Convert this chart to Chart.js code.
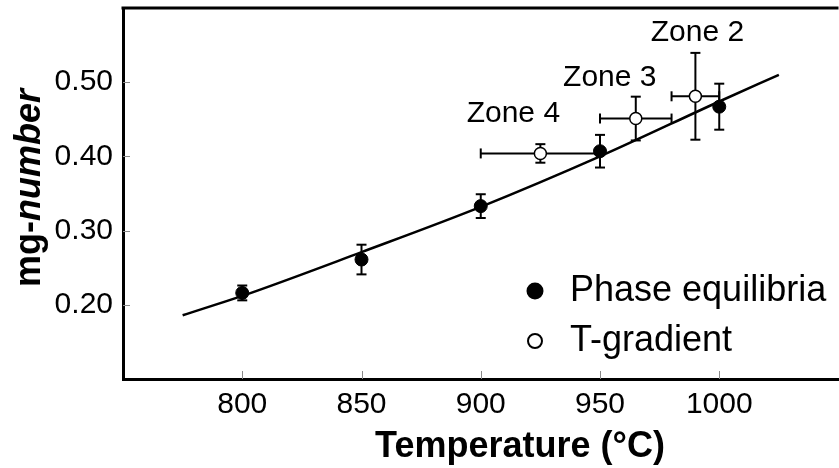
<!DOCTYPE html>
<html>
<head>
<meta charset="utf-8">
<script src="https://cdn.jsdelivr.net/npm/chart.js@4.4.1/dist/chart.umd.min.js"></script>
<style>
  html, body { margin: 0; padding: 0; overflow: hidden; background: #fff; }
  canvas { display: block; }
</style>
</head>
<body>
<canvas id="c" width="846" height="468"></canvas>
<script>
// Phase-equilibria experiments
const phaseTemps = [800, 850, 900, 950, 1000];
const phaseMg = [0.216, 0.261, 0.333, 0.407, 0.467];
const phaseMgErr = [0.010, 0.020, 0.016, 0.022, 0.031];

// Temperature-gradient zones
const zoneNames = ['Zone 4', 'Zone 3', 'Zone 2'];
const zoneTemps = [925, 965, 990];
const zoneTempErr = [25, 15, 10];
const zoneMg = [0.404, 0.451, 0.481];
const zoneMgErr = [0.0125, 0.0295, 0.0585];

// Fitted curve
const fitTemps = [775, 800, 850, 900, 950, 1000, 1025];
const fitMg = [0.186, 0.212, 0.271, 0.332, 0.400, 0.474, 0.510];

// Axes
const xTicks = [800, 850, 900, 950, 1000];
const yTicks = [0.20, 0.30, 0.40, 0.50];
const xTitle = 'Temperature (°C)';
const yTitleParts = ['mg-', 'number'];
const legendLabels = ['Phase equilibria', 'T-gradient'];

const FONT = '"Liberation Sans", Arial, Helvetica, sans-serif';

function seg(ctx, x1, y1, x2, y2) {
  ctx.beginPath();
  ctx.moveTo(x1, y1);
  ctx.lineTo(x2, y2);
  ctx.stroke();
}

// Error bars, drawn beneath the markers
const errorBars = {
  id: 'errorBars',
  beforeDatasetsDraw(chart) {
    const { ctx, scales: { x, y } } = chart;
    const cap = 5;
    ctx.save();
    ctx.strokeStyle = '#000';
    ctx.lineWidth = 2;
    chart.data.datasets.forEach(ds => {
      if (!ds.errors) return;
      ds.data.forEach((p, i) => {
        const px = x.getPixelForValue(p.x);
        const py = y.getPixelForValue(p.y);
        const ey = ds.errors.y ? ds.errors.y[i] : 0;
        const ex = ds.errors.x ? ds.errors.x[i] : 0;
        if (ey) {
          const t = y.getPixelForValue(p.y + ey);
          const b = y.getPixelForValue(p.y - ey);
          seg(ctx, px, t, px, b);
          seg(ctx, px - cap, t, px + cap, t);
          seg(ctx, px - cap, b, px + cap, b);
        }
        if (ex) {
          const l = x.getPixelForValue(p.x - ex);
          const r = x.getPixelForValue(p.x + ex);
          seg(ctx, l, py, r, py);
          seg(ctx, l, py - cap, l, py + cap);
          seg(ctx, r, py - cap, r, py + cap);
        }
      });
    });
    ctx.restore();
  }
};

// Inward tick marks and the top frame line
const frame = {
  id: 'frame',
  beforeDatasetsDraw(chart) {
    const { ctx, chartArea: a, scales: { x, y } } = chart;
    ctx.save();
    ctx.strokeStyle = '#8a8a8a';
    ctx.lineWidth = 1;
    x.ticks.forEach(t => {
      const px = Math.round(x.getPixelForValue(t.value)) + 0.5;
      seg(ctx, px, a.bottom, px, a.bottom - 8);
    });
    y.ticks.forEach(t => {
      const py = Math.round(y.getPixelForValue(t.value)) + 0.5;
      seg(ctx, a.left, py, a.left + 7, py);
    });
    ctx.strokeStyle = '#000';
    ctx.lineWidth = 3;
    seg(ctx, a.left - 1.5, a.top, a.right, a.top);
    ctx.restore();
  }
};

// Zone annotations, axis titles and the legend
const texts = {
  id: 'texts',
  afterDraw(chart, args, opts) {
    const { ctx, scales: { x, y } } = chart;
    ctx.save();
    ctx.fillStyle = '#000';
    ctx.textBaseline = 'alphabetic';

    // zone labels above the gradient points
    ctx.font = `30px ${FONT}`;
    ctx.textAlign = 'center';
    const zd = chart.data.datasets[1];
    zoneNames.forEach((name, i) => {
      const p = zd.data[i];
      const off = opts.zoneOffsets[i];
      ctx.fillText(name, x.getPixelForValue(p.x) + off[0], y.getPixelForValue(p.y) + off[1]);
    });

    // x title
    ctx.font = `bold 36px ${FONT}`;
    ctx.fillText(xTitle, opts.xTitlePos[0], opts.xTitlePos[1]);

    // y title with italic part
    const f1 = `bold 36px ${FONT}`;
    const f2 = `italic bold 36px ${FONT}`;
    ctx.font = f1; const w1 = ctx.measureText(yTitleParts[0]).width;
    ctx.font = f2; const w2 = ctx.measureText(yTitleParts[1]).width;
    ctx.translate(opts.yTitlePos[0], opts.yTitlePos[1]);
    ctx.rotate(-Math.PI / 2);
    ctx.textAlign = 'left';
    ctx.font = f1; ctx.fillText(yTitleParts[0], -(w1 + w2) / 2, 0);
    ctx.font = f2; ctx.fillText(yTitleParts[1], -(w1 + w2) / 2 + w1, 0);
    ctx.setTransform(1, 0, 0, 1, 0, 0);

    // legend
    ctx.font = `36px ${FONT}`;
    ctx.textAlign = 'left';
    const lg = opts.legend;
    legendLabels.forEach((lab, i) => {
      const ds = chart.data.datasets[i];
      const cy = lg.y + i * lg.gap;
      ctx.beginPath();
      ctx.arc(lg.x, cy, lg.r[i], 0, Math.PI * 2);
      ctx.fillStyle = ds.backgroundColor;
      ctx.fill();
      ctx.lineWidth = 2;
      ctx.strokeStyle = ds.borderColor;
      ctx.stroke();
      ctx.fillStyle = '#000';
      ctx.fillText(lab, lg.textX, cy + lg.baseOff);
    });
    ctx.restore();
  }
};

new Chart(document.getElementById('c'), {
  type: 'scatter',
  data: {
    datasets: [
      {
        label: legendLabels[0],
        data: phaseTemps.map((t, i) => ({ x: t, y: phaseMg[i] })),
        errors: { y: phaseMgErr },
        pointRadius: 6.5,
        pointBorderWidth: 1,
        backgroundColor: '#000',
        borderColor: '#000'
      },
      {
        label: legendLabels[1],
        data: zoneTemps.map((t, i) => ({ x: t, y: zoneMg[i] })),
        errors: { x: zoneTempErr, y: zoneMgErr },
        pointRadius: 6,
        pointBorderWidth: 1.5,
        backgroundColor: '#fff',
        borderColor: '#000'
      },
      {
        type: 'line',
        label: 'fit',
        data: fitTemps.map((t, i) => ({ x: t, y: fitMg[i] })),
        borderColor: '#000',
        borderWidth: 2.5,
        pointRadius: 0,
        cubicInterpolationMode: 'monotone',
        fill: false
      }
    ]
  },
  options: {
    responsive: false,
    animation: false,
    devicePixelRatio: 1,
    layout: { padding: { top: 8, left: 0, right: 0, bottom: 0 } },
    plugins: {
      legend: { display: false },
      tooltip: { enabled: false },
      texts: {
        zoneOffsets: [[-27, -31], [-26, -33], [2, -55]],
        xTitlePos: [520, 457],
        yTitlePos: [40, 188],
        legend: { x: 535, y: 291, gap: 50, r: [7.5, 7], textX: 570, baseOff: 10 }
      }
    },
    scales: {
      x: {
        type: 'linear',
        min: 750,
        max: 1050,
        afterBuildTicks: s => { s.ticks = xTicks.map(v => ({ value: v })); },
        afterFit: s => { s.height = 89; s.paddingLeft = 0; s.paddingRight = 0; },
        grid: { display: false, drawTicks: false },
        border: { display: true, color: '#000', width: 3 },
        ticks: {
          autoSkip: false,
          maxRotation: 0,
          padding: 8,
          color: '#000',
          font: { family: FONT, size: 30 },
          callback: v => String(v)
        }
      },
      y: {
        type: 'linear',
        min: 0.1,
        max: 0.6,
        afterBuildTicks: s => { s.ticks = yTicks.map(v => ({ value: v })); },
        afterFit: s => { s.width = 123; s.paddingTop = 0; s.paddingBottom = 0; },
        grid: { display: false, drawTicks: false },
        border: { display: true, color: '#000', width: 3 },
        ticks: {
          autoSkip: false,
          padding: 10,
          color: '#000',
          font: { family: FONT, size: 30 },
          callback: v => v.toFixed(2)
        }
      }
    }
  },
  plugins: [errorBars, frame, texts]
});
</script>
</body>
</html>
